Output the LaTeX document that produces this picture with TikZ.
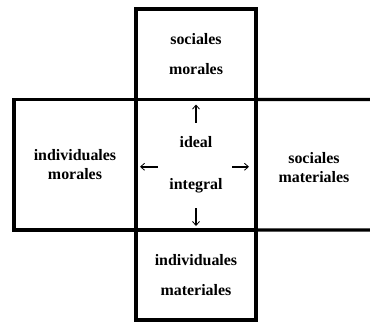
\documentclass[tikz,border=0pt]{standalone}
\usepackage{fontspec}
\setmainfont{Liberation Serif}
\usetikzlibrary{arrows.meta, positioning}
\tikzset{
    cell/.style={draw, line width=3.4bp, inner sep=0pt, outer sep=0pt, align=center,
        font=\bfseries\fontsize{16}{18.5}\selectfont},
    pointer/.style={line width=2bp, -{Straight Barb[length=4bp, width=7bp, line width=0.8bp]}}
}

\begin{document}
\begin{tikzpicture}[x=1bp, y=-1bp]
    \useasboundingbox (0,0) rectangle (370,323);

    % Column of boxes
    \node[cell, minimum width=120bp, minimum height=90.5bp] (top) at (196,54.25) {sociales\\[11bp]morales};
    \node[cell, minimum width=120bp, minimum height=130.5bp] (mid) at (196,164.75) {ideal\\[24bp]integral};
    \node[cell, minimum width=120bp, minimum height=90bp] (bottom) at (196,275) {individuales\\[11bp]materiales};

    % Row of boxes
    \node[cell, minimum width=122bp, minimum height=130.5bp] (left) at (75,164.75) {individuales\\morales};
    \coordinate (rightN) at (370,99.5);
    \coordinate (rightS) at (370,230);
    \draw[line width=3.4bp] (mid.north east) -- (rightN);
    \draw[line width=3.4bp] (mid.south east) -- (rightS);
    \node[cell, draw=none] (right) at (314,167.5) {sociales\\materiales};

    % Arrows out of the centre
    \coordinate[below=23bp of mid.north] (upA);
    \coordinate[below=5bp of mid.north] (upB);
    \coordinate[above=22bp of mid.south] (downA);
    \coordinate[above=4bp of mid.south] (downB);
    \coordinate[below right=2bp and 22bp of mid.west] (westA);
    \coordinate[below right=2bp and 4bp of mid.west] (westB);
    \coordinate[below left=2bp and 24bp of mid.east] (eastA);
    \coordinate[below left=2bp and 7bp of mid.east] (eastB);
    \draw[pointer] (upA) -- (upB);
    \draw[pointer] (downA) -- (downB);
    \draw[pointer] (westA) -- (westB);
    \draw[pointer] (eastA) -- (eastB);
\end{tikzpicture}
\end{document}
